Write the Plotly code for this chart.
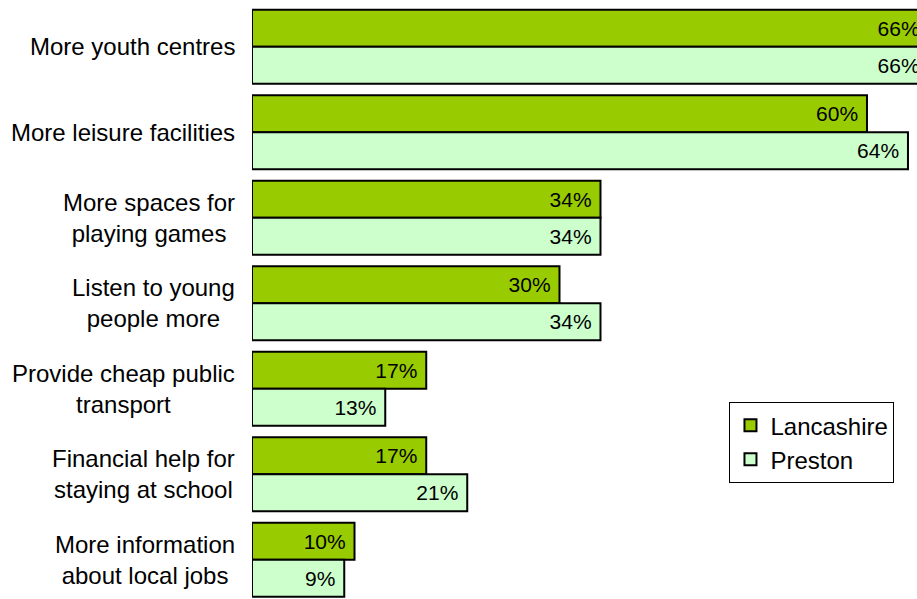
import plotly.graph_objects as go

categories = [
    "More youth centres",
    "More leisure facilities",
    "More spaces for<br>playing games",
    "Listen to young<br>people more",
    "Provide cheap public<br>transport",
    "Financial help for<br>staying at school",
    "More information<br>about local jobs",
]
lancashire = [66, 60, 34, 30, 17, 17, 10]
preston = [66, 64, 34, 34, 13, 21, 9]

FONT = "Liberation Sans, Arial, sans-serif"

fig = go.Figure()
fig.add_trace(go.Bar(
    y=categories, x=lancashire, orientation="h", name="Lancashire",
    marker=dict(color="#99CC00", line=dict(color="black", width=2)),
    text=[f"{v}%\u00a0" for v in lancashire], textposition="inside",
    insidetextanchor="end", textfont=dict(family=FONT, size=21, color="black"),
))
fig.add_trace(go.Bar(
    y=categories, x=preston, orientation="h", name="Preston",
    marker=dict(color="#CCFFCC", line=dict(color="black", width=2)),
    text=[f"{v}%\u00a0" for v in preston], textposition="inside",
    insidetextanchor="end", textfont=dict(family=FONT, size=21, color="black"),
))

for c in categories:
    fig.add_annotation(
        x=0, xref="paper", y=c, yref="y", text=c, showarrow=False,
        xanchor="right", xshift=-15, align="center",
        font=dict(family=FONT, size=24, color="black"),
    )

fig.update_layout(
    width=917, height=599,
    margin=dict(l=252, r=0, t=4, b=0),
    barmode="group", bargap=0.1345, bargroupgap=0,
    plot_bgcolor="white", paper_bgcolor="white",
    font=dict(family=FONT, size=24, color="black"),
    showlegend=True,
    legend=dict(
        x=0.718, y=0.331, xanchor="left", yanchor="top",
        bgcolor="white", bordercolor="black", borderwidth=1,
        font=dict(family=FONT, size=24, color="black"),
        traceorder="normal",
    ),
    xaxis=dict(range=[0, 64.88], showgrid=False, zeroline=False,
               showticklabels=False, showline=False, ticks=""),
    yaxis=dict(range=[6.459, -0.5], showgrid=False, zeroline=False,
               showticklabels=False, showline=False, ticks="",
               type="category"),
)

fig.write_html(
    "out.html",
    config={"displayModeBar": False},
    post_script="document.body.style.margin='0';document.body.style.overflow='hidden';",
)
